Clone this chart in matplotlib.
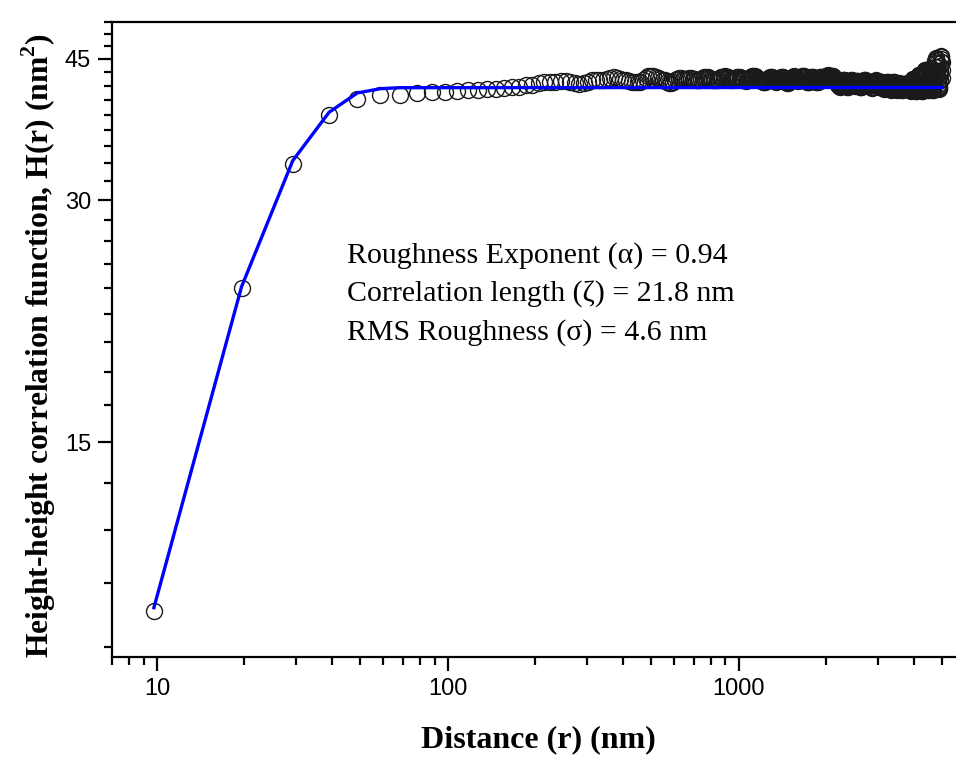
import numpy as np
import matplotlib
matplotlib.use("Agg")
import matplotlib.pyplot as plt
from matplotlib.ticker import FixedLocator, NullFormatter

plt.rcParams['mathtext.fontset'] = 'custom'
plt.rcParams['mathtext.rm'] = 'Liberation Serif'
plt.rcParams['mathtext.bf'] = 'Liberation Serif:bold'

# lag distance: multiples of the AFM pixel size (5000 nm / 512 px)
pixel_nm = 9.766
lag_index = np.arange(1, 513)

# H(r), in pieces
h_rise = [9.25, 23.3, 33.3, 38.3, 40.15, 40.55, 40.6, 40.8, 40.9, 40.95,
          41.05, 41.15, 41.2, 41.25, 41.3, 41.35, 41.45, 41.5, 41.7, 41.8,
          41.95, 42.05, 42.1, 42.15, 42.2, 42.25, 42.1, 41.95, 41.9, 42.0,
          42.15, 42.3, 42.35, 42.4, 42.4, 42.45, 42.55, 42.65, 42.6, 42.45,
          42.35, 42.3, 42.2, 42.15, 42.1, 42.05, 42.15, 42.35, 42.6, 42.8,
          42.85, 42.8, 42.7, 42.6, 42.5, 42.4, 42.3, 42.15, 42.0, 41.95,
          42.1, 42.3, 42.45, 42.55, 42.6, 42.5, 42.45, 42.5, 42.6, 42.55]
h_700 = [42.5, 42.45, 42.4, 42.35, 42.4, 42.5, 42.6, 42.7, 42.75, 42.7,
         42.6, 42.5, 42.4, 42.35, 42.3, 42.35, 42.45, 42.55, 42.65, 42.7,
         42.75, 42.8, 42.75, 42.65, 42.55, 42.45, 42.4, 42.45, 42.55, 42.6,
         42.7, 42.75, 42.7, 42.6, 42.5, 42.4, 42.3, 42.25, 42.3, 42.4,
         42.5, 42.6, 42.7, 42.8, 42.85, 42.8, 42.7, 42.6, 42.5, 42.45]
h_1200 = [42.4, 42.3, 42.2, 42.1, 42.05, 42.1, 42.2, 42.35, 42.5, 42.6,
          42.7, 42.75, 42.7, 42.6, 42.45, 42.3, 42.2, 42.15, 42.2, 42.3,
          42.45, 42.55, 42.65, 42.7, 42.65, 42.55, 42.4, 42.25, 42.1, 42.0,
          41.95, 42.05, 42.2, 42.35, 42.5, 42.6, 42.7, 42.8, 42.75, 42.65,
          42.5, 42.4, 42.3, 42.25, 42.3, 42.4, 42.55, 42.7, 42.8, 42.85,
          42.8, 42.7, 42.55, 42.4, 42.25, 42.15, 42.1, 42.15, 42.3, 42.45,
          42.6, 42.7, 42.75, 42.7, 42.6, 42.5, 42.35, 42.2, 42.1, 42.05,
          42.1, 42.25, 42.4, 42.55, 42.65, 42.7, 42.65, 42.55, 42.45, 42.4,
          42.45, 42.55, 42.65, 42.75]
h_2000 = [42.8, 42.85, 42.9, 42.85, 42.8, 42.75, 42.7, 42.75, 42.8, 42.85,
          42.8, 42.7, 42.6, 42.5, 42.4, 42.3, 42.2, 42.1]
h_2200 = [42.0, 41.9, 41.8, 41.7, 41.6, 41.55, 41.6, 41.7, 41.85, 42.0,
          42.15, 42.3, 42.35, 42.3, 42.2, 42.05, 41.9, 41.75, 41.6, 41.5,
          41.5, 41.6, 41.75, 41.9, 42.05, 42.2, 42.3, 42.35, 42.25, 42.1,
          41.95, 41.8, 41.7, 41.65, 41.7, 41.8, 41.95, 42.1, 42.2, 42.25,
          42.2, 42.05, 41.9, 41.75, 41.6, 41.5, 41.45, 41.5, 41.65, 41.8,
          41.95, 42.1, 42.25, 42.35, 42.4, 42.35, 42.2, 42.05, 41.9, 41.8,
          41.75, 41.8, 41.9, 42.0, 42.1, 42.15, 42.1, 42.0, 41.85, 41.7,
          41.55, 41.45, 41.4, 41.45, 41.55, 41.7, 41.85, 42.0, 42.1, 42.2,
          42.3, 42.25, 42.15, 42.0, 41.85, 41.7, 41.6, 41.55, 41.6, 41.7,
          41.85, 41.95, 42.05, 42.1, 42.05, 41.95, 41.8, 41.65, 41.5, 41.4,
          41.35, 41.3, 41.35, 41.45, 41.6, 41.75, 41.9, 42.0, 42.1, 42.15,
          42.1, 42.0, 41.9, 41.75, 41.6, 41.45, 41.35, 41.25, 41.2, 41.25,
          41.35, 41.5, 41.65, 41.8, 41.95, 42.05, 42.1, 42.05, 41.95, 41.8,
          41.65, 41.5, 41.4, 41.3, 41.25, 41.2, 41.25, 41.35, 41.5, 41.65,
          41.8, 41.9, 41.95, 41.9, 41.8, 41.65, 41.5, 41.35, 41.25, 41.2,
          41.2, 41.3, 41.45, 41.6, 41.75, 41.85, 41.9, 41.85, 41.75, 41.6,
          41.45, 41.35, 41.3]
h_3800 = [41.3, 41.4, 41.55, 41.7, 41.85, 41.95, 41.9, 41.8, 41.65, 41.5,
          41.35, 41.2, 41.1, 41.05, 41.1, 41.25, 41.45, 41.7, 41.95, 42.2,
          42.4, 42.5, 42.45, 42.3, 42.1, 41.9, 41.7, 41.5, 41.3, 41.15,
          41.05, 41.0, 41.1, 41.3, 41.55, 41.85, 42.15, 42.45, 42.7, 42.9,
          43.0, 42.95, 42.8, 42.55, 42.3, 42.05, 41.8, 41.55, 41.3, 41.1,
          41.0, 41.05, 41.2, 41.45, 41.75, 42.1, 42.45, 42.8, 43.1, 43.35,
          43.5, 43.6, 43.55, 43.35, 43.05, 42.7, 42.35, 42.0, 41.7, 41.45,
          41.25, 41.15, 41.2, 41.4, 41.7, 42.05, 42.45, 42.85, 43.2, 43.5]
h_tail = [43.7, 43.8, 43.7, 43.45, 43.1, 42.7, 42.3, 41.9, 41.55, 41.3,
          41.15, 41.2, 41.45, 41.85, 42.35, 42.9, 43.45, 43.95, 44.4, 44.75,
          45.0, 45.1, 45.0, 44.75, 44.4, 43.95, 43.5, 43.05, 42.6, 42.2,
          41.85, 41.55, 41.35, 41.3, 41.45, 41.8, 42.3, 42.9, 43.5, 44.1,
          44.6, 45.0, 45.3, 45.2, 44.6, 43.6, 42.6]

r = lag_index * pixel_nm
h = np.array(h_rise + h_700 + h_1200 + h_2000 + h_2200 + h_3800 + h_tail)

# fitted curve as drawn (blue)
fit_r = [9.766, 19.53, 29.30, 39.06, 48.83, 58.59, 68.36, 5000]
fit_h = [9.33, 23.4, 33.6, 38.6, 40.8, 41.3, 41.42, 41.45]

notes = ['Roughness Exponent (\u03b1) = 0.94',
         'Correlation length (\u03b6) = 21.8 nm',
         'RMS Roughness (\u03c3) = 4.6 nm']

fig = plt.figure(figsize=(9.56, 7.59), dpi=100)
ax = fig.add_axes([0.117, 0.1344, 0.883, 0.8366])

ax.plot(r, h, linestyle='none', marker='o', markersize=11.5,
        markerfacecolor='none', markeredgecolor='#1a1a1a', markeredgewidth=1.0)
ax.plot(fit_r, fit_h, color='#0000ff', linewidth=2.4)

ax.set_xscale('log')
ax.set_yscale('log')
ax.set_xlim(7, 5580)
ax.set_ylim(8.1, 50)

ax.xaxis.set_major_locator(FixedLocator([10, 100, 1000]))
ax.xaxis.set_minor_locator(FixedLocator([m * d for d in [1, 10, 100, 1000]
                                         for m in range(2, 10)]))
ax.set_xticklabels(['10', '100', '1000'])
ax.xaxis.set_minor_formatter(NullFormatter())

# y ticks every 15/9 units, labelled every 15
y_minor = [15 * i / 9 for i in range(5, 31) if i % 9]
ax.yaxis.set_major_locator(FixedLocator([15, 30, 45]))
ax.yaxis.set_minor_locator(FixedLocator(y_minor))
ax.set_yticklabels(['15', '30', '45'])
ax.yaxis.set_minor_formatter(NullFormatter())

ax.tick_params(which='both', direction='out', width=1.6, colors='black',
               labelsize=17, top=False, right=False)
ax.tick_params(which='major', length=10, pad=5)
ax.tick_params(which='minor', length=5.8)
for lab in ax.get_xticklabels() + ax.get_yticklabels():
    lab.set_family('Liberation Sans')

for side in ['left', 'bottom', 'top']:
    ax.spines[side].set_linewidth(1.6)
ax.spines['right'].set_visible(False)

ax.set_xlabel('Distance (r) (nm)', family='Liberation Serif', fontweight='bold',
              fontsize=23, labelpad=18)
ax.xaxis.label.set_x(0.505)
ax.set_ylabel(r'Height-height correlation function, H(r) (nm$^{\mathbf{2}}$)',
              family='Liberation Serif', fontweight='bold', fontsize=22.8, labelpad=5)
ax.yaxis.label.set_y(0.49)

for i, txt in enumerate(notes):
    ax.text(0.278, 0.633 - i * 0.061, txt, transform=ax.transAxes,
            family='Liberation Serif', fontsize=21.5, va='center', ha='left')

fig.savefig('out.png', dpi=100)
